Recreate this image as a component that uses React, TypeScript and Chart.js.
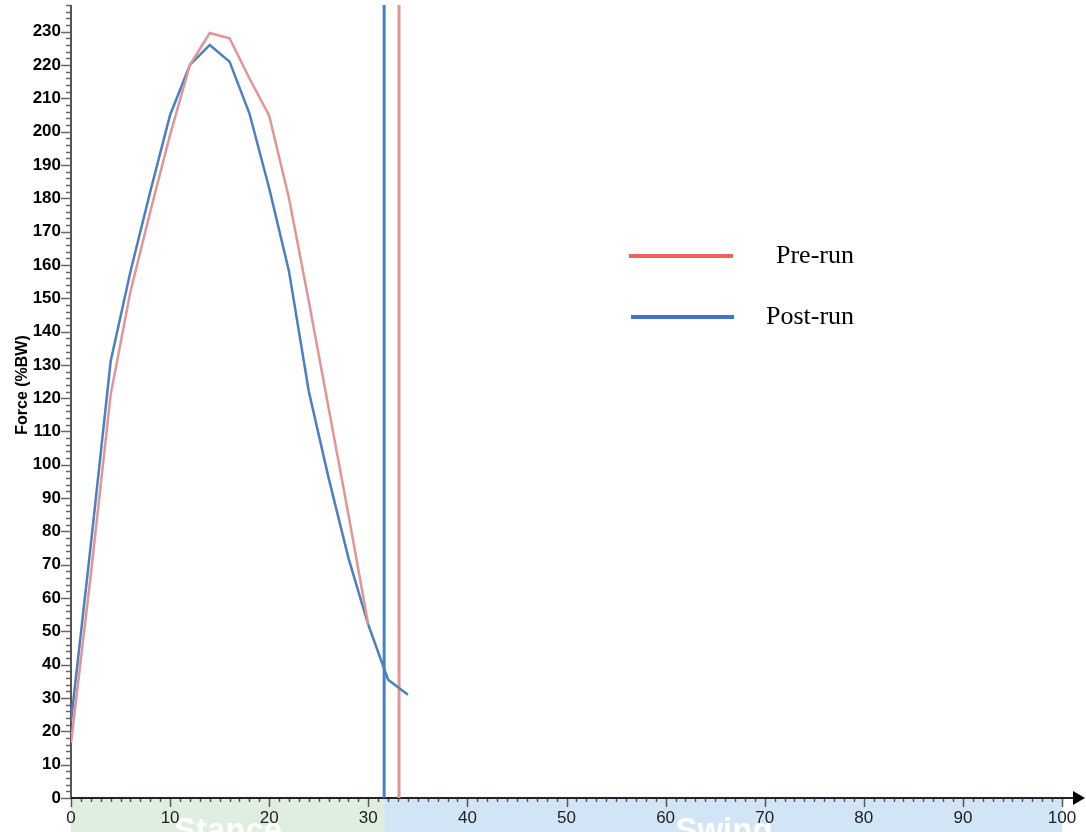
import React, { useEffect, useRef } from 'react';
import { Chart, registerables } from 'chart.js';

Chart.register(...registerables);

// Percent of gait cycle (x) and vertical force (%BW)
const preX = [0, 2, 4, 6, 8, 10, 12, 14, 16, 18, 20, 22, 24, 26, 28, 30];
const preForce = [16.5, 67, 121, 152, 176, 199, 220, 229.6, 228, 216, 204.8, 180, 149, 117, 85, 52];
const postX = [0, 2, 4, 6, 8, 10, 12, 14, 16, 18, 20, 22, 24, 26, 28, 30, 32, 34];
const postForce = [23, 76, 131, 158, 182, 205, 220, 226, 221, 205.5, 183, 158, 122, 96, 72, 52, 35.5, 31];

const preToeOff = 33.1;
const postToeOff = 31.6;

const xMin = 0;
const xMax = 100;
const yMin = 0;
const yMax = 238;

const legendLabels = ['Pre-run', 'Post-run'];
const phaseLabels = ['Stance', 'Swing'];
const yTitle = 'Force (%BW)';

const PRE_LINE = '#E39494';
const POST_LINE = '#4A7FC1';
const PRE_LEGEND = '#F25F5F';
const POST_LEGEND = '#4472C4';

const decorPlugin = {
  id: 'decor',
  beforeDraw(chart: any) {
    const { ctx, scales } = chart;
    const xs = scales.x;
    const ys = scales.y;
    const y0 = ys.getPixelForValue(0);
    const x0 = xs.getPixelForValue(xMin);
    const xb = xs.getPixelForValue(postToeOff);
    const x1 = xs.getPixelForValue(xMax);
    const h = chart.height;
    ctx.save();
    ctx.fillStyle = '#DFEEDF';
    ctx.fillRect(x0, y0 + 1, xb - x0, h - y0);
    ctx.fillStyle = '#D2E5F7';
    ctx.fillRect(xb, y0 + 1, x1 - xb, h - y0);
    ctx.fillStyle = '#FFFFFF';
    ctx.font = 'bold 33px "Liberation Sans", Arial, sans-serif';
    ctx.textAlign = 'center';
    ctx.textBaseline = 'alphabetic';
    ctx.fillText(phaseLabels[0], 228, y0 + 43);
    ctx.fillText(phaseLabels[1], 724, y0 + 43);
    ctx.restore();
  },
  beforeDatasetsDraw(chart: any) {
    const { ctx, scales } = chart;
    const xs = scales.x;
    const ys = scales.y;
    const ax = xs.getPixelForValue(xMin);
    const ay = ys.getPixelForValue(0);
    const top = ys.getPixelForValue(yMax);
    ctx.save();
    // y ticks
    ctx.strokeStyle = '#666';
    ctx.lineWidth = 1.5;
    for (let v = 0; v <= yMax; v += 2) {
      const py = Math.round(ys.getPixelForValue(v)) + 0.5;
      const len = v % 10 === 0 ? 10 : 5;
      ctx.beginPath();
      ctx.moveTo(ax - len, py);
      ctx.lineTo(ax, py);
      ctx.stroke();
    }
    // x ticks
    ctx.strokeStyle = '#555';
    ctx.lineWidth = 1.5;
    for (let v = 0; v <= xMax; v += 1) {
      const px = Math.round(xs.getPixelForValue(v)) + 0.5;
      const len = v % 10 === 0 ? 9 : 4;
      ctx.beginPath();
      ctx.moveTo(px, ay);
      ctx.lineTo(px, ay + len);
      ctx.stroke();
    }
    // y axis
    ctx.strokeStyle = '#555';
    ctx.lineWidth = 2;
    ctx.beginPath();
    ctx.moveTo(ax, top);
    ctx.lineTo(ax, ay);
    ctx.stroke();
    // x axis with arrow
    ctx.strokeStyle = '#222';
    ctx.beginPath();
    ctx.moveTo(ax, ay);
    ctx.lineTo(1076, ay);
    ctx.stroke();
    ctx.fillStyle = '#000';
    ctx.beginPath();
    ctx.moveTo(1073, ay - 7);
    ctx.lineTo(1085, ay);
    ctx.lineTo(1073, ay + 7);
    ctx.closePath();
    ctx.fill();
    ctx.restore();
  },
  afterDraw(chart: any) {
    const { ctx } = chart;
    ctx.save();
    // legend
    ctx.lineWidth = 4;
    ctx.strokeStyle = PRE_LEGEND;
    ctx.beginPath();
    ctx.moveTo(629, 256);
    ctx.lineTo(733, 256);
    ctx.stroke();
    ctx.strokeStyle = POST_LEGEND;
    ctx.beginPath();
    ctx.moveTo(631, 317);
    ctx.lineTo(734, 317);
    ctx.stroke();
    ctx.fillStyle = '#000';
    ctx.font = '26px "Liberation Serif", "Times New Roman", serif';
    ctx.textAlign = 'left';
    ctx.textBaseline = 'middle';
    ctx.fillText(legendLabels[0], 776, 256);
    ctx.fillText(legendLabels[1], 766, 317);
    // y title
    ctx.translate(23, 385);
    ctx.rotate(-Math.PI / 2);
    ctx.textAlign = 'center';
    ctx.font = 'bold 16px "Liberation Sans", Arial, sans-serif';
    ctx.fillText(yTitle, 0, 0);
    ctx.restore();
  },
};

export default function App() {
  const ref = useRef<HTMLCanvasElement | null>(null);
  useEffect(() => {
    document.body.style.margin = '0';
    if (!ref.current) return;
    const chart = new Chart(ref.current, {
      type: 'line',
      data: {
        datasets: [
          {
            label: legendLabels[0],
            data: preX.map((x, i) => ({ x, y: preForce[i] })),
            borderColor: PRE_LINE,
            borderWidth: 2.5,
            pointRadius: 0,
            tension: 0,
          },
          {
            label: legendLabels[1],
            data: postX.map((x, i) => ({ x, y: postForce[i] })),
            borderColor: POST_LINE,
            borderWidth: 2.5,
            pointRadius: 0,
            tension: 0,
          },
          {
            label: 'post toe-off',
            data: [{ x: postToeOff, y: yMin }, { x: postToeOff, y: yMax }],
            borderColor: POST_LINE,
            borderWidth: 3,
            pointRadius: 0,
          },
          {
            label: 'pre toe-off',
            data: [{ x: preToeOff, y: yMin }, { x: preToeOff, y: yMax }],
            borderColor: PRE_LINE,
            borderWidth: 3,
            pointRadius: 0,
          },
        ],
      },
      options: {
        animation: false,
        responsive: false,
        devicePixelRatio: 1,
        layout: { padding: { top: 5, right: 24, left: 0, bottom: 0 } },
        plugins: { legend: { display: false }, tooltip: { enabled: false } },
        scales: {
          x: {
            type: 'linear',
            min: xMin,
            max: xMax,
            grid: { display: false, drawTicks: false },
            border: { display: false },
            ticks: {
              stepSize: 10,
              autoSkip: false,
              maxRotation: 0,
              padding: 10,
              color: '#222',
              font: { family: '"Liberation Sans", Arial, sans-serif', size: 17 },
            },
            afterFit: (s: any) => {
              s.height = 34;
              s.paddingLeft = 0;
              s.paddingRight = 0;
            },
          },
          y: {
            type: 'linear',
            min: yMin,
            max: yMax,
            grid: { display: false, drawTicks: false },
            border: { display: false },
            ticks: {
              stepSize: 10,
              autoSkip: false,
              padding: 10,
              color: '#000',
              font: { family: '"Liberation Sans", Arial, sans-serif', size: 17, weight: 'bold' },
            },
            afterBuildTicks: (s: any) => {
              s.ticks = s.ticks.filter((t: any) => t.value % 10 === 0);
            },
            afterFit: (s: any) => {
              s.width = 71;
              s.paddingTop = 0;
              s.paddingBottom = 0;
            },
          },
        },
      },
      plugins: [decorPlugin],
    } as any);
    return () => chart.destroy();
  }, []);
  return (
    <div style={{ width: 1086, height: 832 }}>
      <canvas ref={ref} width={1086} height={832} style={{ display: 'block' }} />
    </div>
  );
}
